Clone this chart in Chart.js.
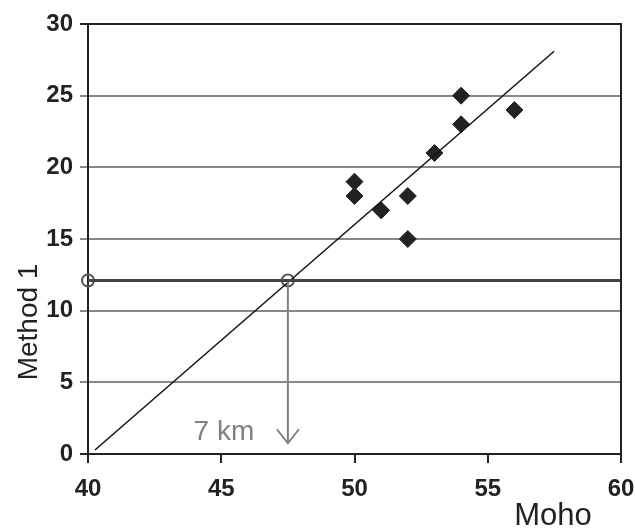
<!DOCTYPE html>
<html>
<head>
<meta charset="utf-8">
<script src="https://cdn.jsdelivr.net/npm/chart.js@4"></script>
<style>
html,body{margin:0;padding:0;background:#fff;}
#wrap{width:635px;height:529px;position:relative;}
</style>
</head>
<body>
<div id="wrap"><canvas id="c" width="635" height="529"></canvas></div>
<script>
// ---- data ----
const mohoX = [50, 50, 51, 52, 52, 53, 54, 54, 56];
const method1Y = [19, 18, 17, 18, 15, 21, 25, 23, 24];
const trendX = [40.26, 57.49];
const trendY = [0.28, 28.1];
const thresholdX = [40, 60];
const thresholdY = [12.1, 12.1];
const markerX = [40, 47.5];
const markerY = [12.1, 12.1];
const arrowX = [47.5, 47.5];
const arrowY = [12.1, 0.75];
const xTicks = [40, 45, 50, 55, 60];
const yTicks = [0, 5, 10, 15, 20, 25, 30];
const annotationText = '7 km';
const annotationAt = [45.1, 1.0];
const xTitle = 'Moho';
const yTitle = 'Method 1';

const zip = (xs, ys) => xs.map((x, i) => ({x, y: ys[i]}));

const overlay = {
  id: 'overlay',
  afterDatasetsDraw(chart) {
    const {ctx, chartArea: a, scales: {x, y}} = chart;
    ctx.save();
    // frame
    ctx.strokeStyle = '#222';
    ctx.lineWidth = 2;
    ctx.beginPath();
    ctx.moveTo(a.left, a.top); ctx.lineTo(a.right, a.top); ctx.lineTo(a.right, a.bottom);
    ctx.stroke();
    // arrow head
    const ax = x.getPixelForValue(arrowX[1]);
    const ay = y.getPixelForValue(arrowY[1]);
    ctx.strokeStyle = '#808080';
    ctx.lineWidth = 2;
    ctx.beginPath();
    ctx.moveTo(ax - 11, ay - 14); ctx.lineTo(ax, ay); ctx.lineTo(ax + 11, ay - 14);
    ctx.stroke();
    // annotation
    ctx.fillStyle = '#808080';
    ctx.font = '28px "Liberation Sans", Arial, sans-serif';
    ctx.textAlign = 'center';
    ctx.textBaseline = 'alphabetic';
    ctx.fillText(annotationText, x.getPixelForValue(annotationAt[0]), y.getPixelForValue(annotationAt[1]));
    // axis titles
    ctx.fillStyle = '#222';
    ctx.font = '31px "Liberation Sans", Arial, sans-serif';
    ctx.textAlign = 'center';
    ctx.fillText(xTitle, 553, 525);
    ctx.translate(37, 322);
    ctx.rotate(-Math.PI / 2);
    ctx.font = '28px "Liberation Sans", Arial, sans-serif';
    ctx.fillText(yTitle, 0, 0);
    ctx.restore();
  }
};

const tickFont = {family: '"Liberation Sans", Arial, sans-serif', size: 24, weight: 'bold'};

new Chart(document.getElementById('c'), {
  type: 'scatter',
  data: {
    datasets: [
      {
        label: 'threshold', type: 'line', data: zip(thresholdX, thresholdY),
        borderColor: '#444', borderWidth: 3, pointRadius: 0, fill: false
      },
      {
        label: 'arrow', type: 'line', data: zip(arrowX, arrowY),
        borderColor: '#808080', borderWidth: 2, pointRadius: 0, fill: false
      },
      {
        label: 'trend', type: 'line', data: zip(trendX, trendY),
        borderColor: '#111', borderWidth: 1.5, pointRadius: 0, fill: false
      },
      {
        label: 'markers', data: zip(markerX, markerY), clip: false,
        pointStyle: 'circle', pointRadius: 6, borderColor: '#555', borderWidth: 2,
        backgroundColor: 'rgba(0,0,0,0)'
      },
      {
        label: 'data', data: zip(mohoX, method1Y),
        pointStyle: 'rectRot', pointRadius: 8.5, backgroundColor: '#222', borderColor: '#222', borderWidth: 1
      }
    ]
  },
  options: {
    responsive: false,
    animation: false,
    events: [],
    layout: {autoPadding: false, padding: {left: 0, right: 14, top: 24, bottom: 0}},
    plugins: {legend: {display: false}, tooltip: {enabled: false}},
    scales: {
      x: {
        type: 'linear', min: 40, max: 60,
        afterBuildTicks: s => { s.ticks = xTicks.map(v => ({value: v})); },
        afterFit: s => { s.height = 75; s.paddingLeft = 0; s.paddingRight = 0; },
        grid: {drawOnChartArea: false, drawTicks: true, tickLength: 9, color: '#222', lineWidth: 2},
        border: {color: '#222', width: 2},
        ticks: {color: '#222', padding: 12, font: tickFont}
      },
      y: {
        type: 'linear', min: 0, max: 30,
        afterBuildTicks: s => { s.ticks = yTicks.map(v => ({value: v})); },
        afterFit: s => { s.width = 88; s.paddingTop = 0; s.paddingBottom = 0; },
        grid: {drawTicks: true, tickLength: 8, color: ctx => (ctx.tick && (ctx.tick.value === 30 || ctx.tick.value === 0)) ? '#222' : '#888', lineWidth: 2},
        border: {color: '#222', width: 2},
        ticks: {color: '#222', padding: 7, font: tickFont}
      }
    }
  },
  plugins: [overlay]
});
</script>
</body>
</html>
